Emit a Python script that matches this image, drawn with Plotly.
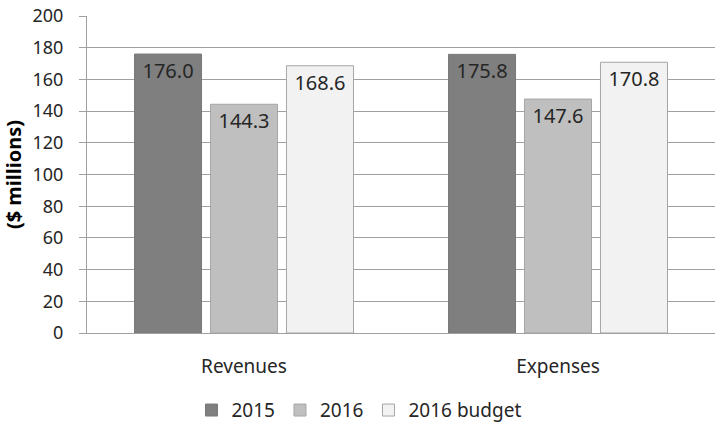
import plotly.graph_objects as go

categories = ["Revenues", "Expenses"]
series_names = ["2015", "2016", "2016 budget"]
values_2015 = [176.0, 175.8]
values_2016 = [144.3, 147.6]
values_budget = [168.6, 170.8]
y_ticks = [0, 20, 40, 60, 80, 100, 120, 140, 160, 180, 200]

colors = ["#7f7f7f", "#bfbfbf", "#f2f2f2"]
line_colors = ["#7a7a7a", "#a6a6a6", "#a6a6a6"]
FONT = "Noto Sans"

fig = go.Figure()
for name, vals, c, lc in zip(series_names, [values_2015, values_2016, values_budget], colors, line_colors):
    fig.add_trace(go.Bar(
        x=categories, y=vals, name=name,
        marker=dict(color=c, line=dict(color=lc, width=1)),
        text=[f"{v:.1f}" for v in vals],
        textposition="inside", insidetextanchor="end",
        textfont=dict(family=FONT, size=20, color="#262626"),
        textangle=0,
        cliponaxis=False,
    ))

fig.update_layout(
    width=718, height=422,
    margin=dict(l=87, r=3, t=14, b=89),
    paper_bgcolor="white", plot_bgcolor="white",
    barmode="group", bargap=0.274, bargroupgap=0.118,
    font=dict(family=FONT, size=19, color="#262626"),
    uniformtext=dict(minsize=20, mode="show"),
    showlegend=True,
    legend=dict(orientation="h", xref="container", x=0.5, xanchor="center",
                yref="container", y=0.028, yanchor="middle",
                font=dict(family=FONT, size=19, color="#262626"),
                itemwidth=30, traceorder="normal"),
)
fig.update_yaxes(
    range=[0, 200], tickvals=y_ticks, ticktext=[str(t) for t in y_ticks],
    showgrid=True, gridcolor="#a0a0a0", gridwidth=1,
    showline=True, linecolor="#a0a0a0", linewidth=1,
    ticks="outside", ticklen=7, tickcolor="#a0a0a0",
    ticklabelstandoff=12,
    tickfont=dict(family=FONT, size=18, color="#262626"),
    zeroline=False,
    title=dict(text="<b>($ millions)</b>", font=dict(family=FONT, size=20, color="#000000"), standoff=6),
)
fig.update_xaxes(
    showline=True, linecolor="#a0a0a0", linewidth=1,
    ticks="", ticklabelstandoff=16,
    tickfont=dict(family=FONT, size=19, color="#262626"),
)

fig.write_html("out.html")
